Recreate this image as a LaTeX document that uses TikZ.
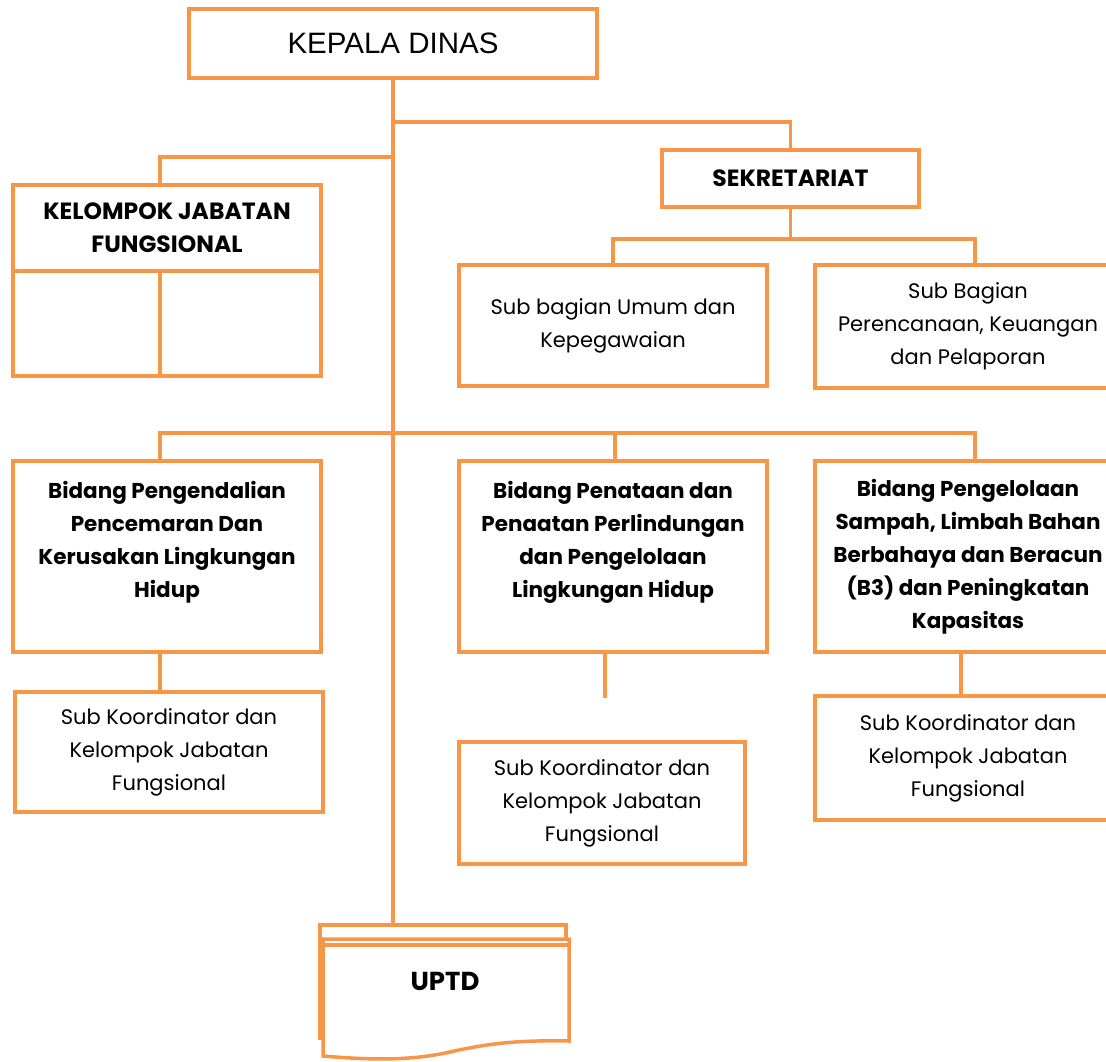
\documentclass[tikz,border=0pt]{standalone}
\usepackage{fontspec}
\setmainfont{Poppins}
\newfontfamily\arialfont{Liberation Sans}
\definecolor{orgline}{HTML}{F79646}
\tikzset{
  box/.style={draw=orgline, line width=3.5pt, fill=white, rectangle, inner sep=0pt, align=center},
  link/.style={draw=orgline, line width=3.5pt},
  txt/.style={align=center, font=\fontsize{21}{33}\selectfont},
  boldtxt/.style={align=center, font=\bfseries\fontsize{21.5}{33}\selectfont},
  headtxt/.style={align=center, font=\bfseries\fontsize{23.5}{33}\selectfont},
}
\begin{document}
\begin{tikzpicture}[x=1pt,y=-1pt]
    \useasboundingbox (0,0) rectangle (1106,1061);
    \clip (0,0) rectangle (1106,1061);

    % Top of the chart
    \node[box, minimum width=408, minimum height=69] (kadis) at (393,43.5)
        {\arialfont\fontsize{29.5}{30}\selectfont KEPALA DINAS};
    \node[box, headtxt, minimum width=257, minimum height=57] (sekr) at (790.5,178.5) {SEKRETARIAT};

    % Kelompok jabatan fungsional (split box)
    \node[box, minimum width=308, minimum height=191] (kjf) at (167,280.5) {};
    \coordinate (kjfsplit) at (160,271);
    \draw[link] (kjf.west |- kjfsplit) -- (kjf.east |- kjfsplit);
    \draw[link] (kjfsplit) -- (kjfsplit |- kjf.south);
    \node[headtxt] (kjftext) at (167,228) {KELOMPOK JABATAN\\FUNGSIONAL};

    % Sub bagian under sekretariat
    \node[box, txt, minimum width=308, minimum height=121] (subum) at (613,325.5)
        {Sub bagian Umum dan\\Kepegawaian};
    \node[box, txt, minimum width=306, minimum height=123] (subren) at (968,326.5)
        {Sub Bagian\\Perencanaan, Keuangan\\dan Pelaporan};

    % Bidang
    \node[box, minimum width=308, minimum height=191] (bid1) at (167,556.5) {};
    \node[boldtxt] (bid1text) at (167,542.5)
        {Bidang Pengendalian\\Pencemaran Dan\\Kerusakan Lingkungan\\Hidup};
    \node[box, minimum width=308, minimum height=191] (bid2) at (613,556.5) {};
    \node[boldtxt] (bid2text) at (613,542.5)
        {Bidang Penataan dan\\Penaatan Perlindungan\\dan Pengelolaan\\Lingkungan Hidup};
    \node[box, boldtxt, minimum width=306, minimum height=191] (bid3) at (968,556.5)
        {Bidang Pengelolaan\\Sampah, Limbah Bahan\\Berbahaya dan Beracun\\(B3) dan Peningkatan\\Kapasitas};

    % Sub koordinator
    \node[box, txt, minimum width=308, minimum height=120] (sk1) at (169,752)
        {Sub Koordinator dan\\Kelompok Jabatan\\Fungsional};
    \node[box, txt, minimum width=286, minimum height=122] (sk2) at (602,803)
        {Sub Koordinator dan\\Kelompok Jabatan\\Fungsional};
    \node[box, txt, minimum width=306, minimum height=124] (sk3) at (968,758)
        {Sub Koordinator dan\\Kelompok Jabatan\\Fungsional};

    % UPTD (stacked document)
    \draw[link] (320,1040) -- (320,925) -- (566,925) -- (566,1040);
    \draw[link, fill=white] (323,1056) -- (323,939) -- (569,939) -- (569,1041)
        .. controls (520,1040) and (490,1043) .. (450,1052)
        .. controls (410,1061) and (370,1060) .. (323,1056) -- cycle;
    \draw[link] (323,945) -- (569,945);
    \coordinate (uptdtop) at (443,925);
    \node[headtxt, font=\bfseries\fontsize{26}{28}\selectfont] (uptd) at (445,981) {UPTD};

    % Connectors
    \coordinate (jsekr) at (kadis.south |- 0,122);
    \coordinate (jkjf) at (kadis.south |- 0,157);
    \coordinate (jbid) at (kadis.south |- 0,433);
    \draw[link] (kadis.south) -- (kadis.south |- uptdtop);
    \draw[link] (jsekr) -| (sekr.north);
    \draw[link] (jkjf) -| (kjfsplit |- kjf.north);
    \draw[link] (sekr.south) -- ++(0,30) coordinate (jsub);
    \draw[link] (subum.north) |- (jsub) -| (975,265);
    \draw[link] (160,461) |- (975,433) -- (975,461);
    \draw[link] (615,433) -- (615,461);
    \draw[link] (bid1.south -| 160,0) -- (sk1.north -| 160,0);
    \draw[link] (bid2.south -| 605,0) -- (605,698);
    \draw[link] (bid3.south -| 961,0) -- (sk3.north -| 961,0);
\end{tikzpicture}
\end{document}
